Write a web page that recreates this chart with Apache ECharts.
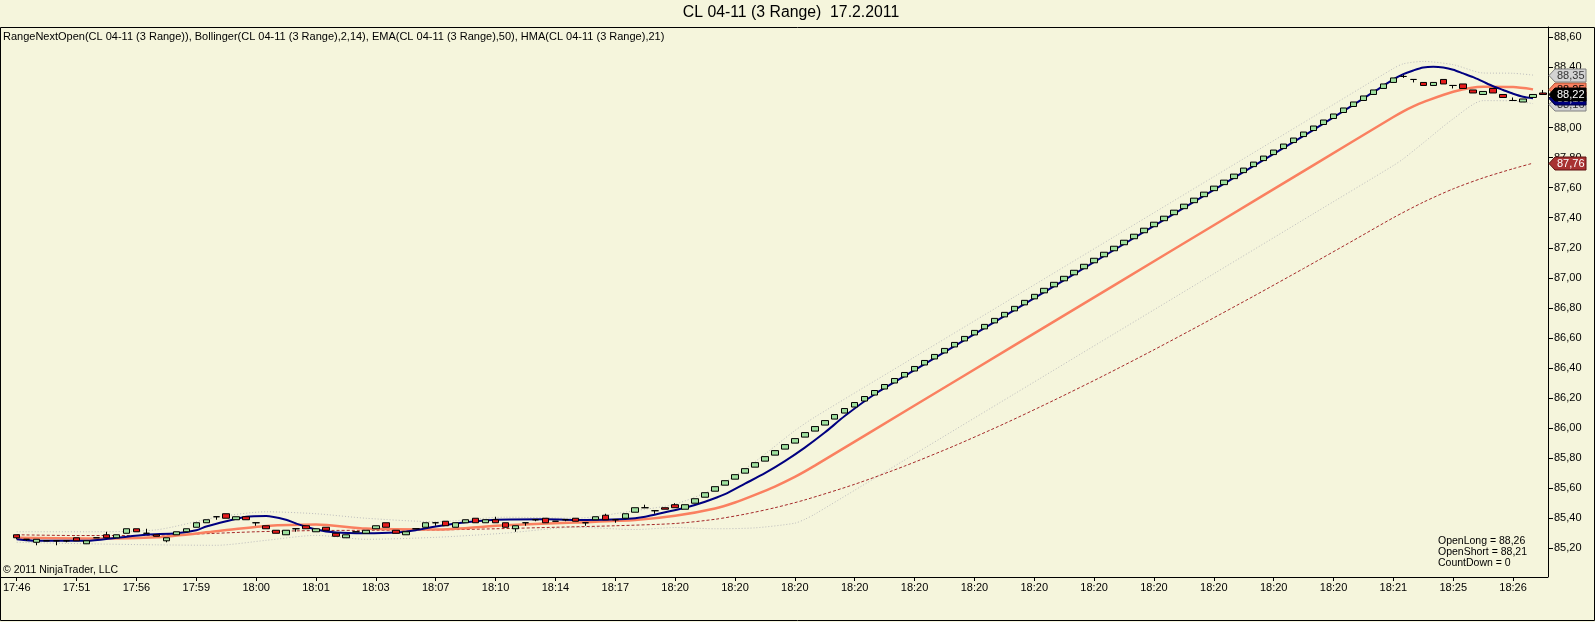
<!DOCTYPE html>
<html lang="en">
<head>
<meta charset="utf-8" />
<title>CL 04-11 (3 Range)</title>
<style>
  html, body { margin: 0; height: 100%; background: #f5f5dc; }
  #chart { width: 1595px; height: 622px; }
</style>
</head>
<body>
<div id="chart"></div>
<script src="https://cdn.jsdelivr.net/npm/echarts@6.0.0/dist/echarts.min.js"></script>
<script>
// x axis tick labels, one every 6 bars
var tickLabels = ['17:46','17:51','17:56','17:59','18:00','18:01','18:03','18:07','18:10','18:14','18:17',
  '18:20','18:20','18:20','18:20','18:20','18:20','18:20','18:20','18:20','18:20','18:20','18:20',
  '18:21','18:25','18:26'];
var yTicks = [85.2,85.4,85.6,85.8,86.0,86.2,86.4,86.6,86.8,87.0,87.2,87.4,87.6,87.8,88.0,88.2,88.4,88.6];

// range bars (154)
var opens = [
  85.29,85.26,85.24,85.25,85.25,85.25,85.27,85.23,85.27,85.29,
  85.27,85.30,85.33,85.30,85.29,85.25,85.29,85.31,85.34,85.37,
  85.41,85.43,85.39,85.41,85.37,85.35,85.32,85.29,85.33,85.35,
  85.31,85.34,85.30,85.27,85.31,85.30,85.33,85.37,85.32,85.29,
  85.33,85.34,85.37,85.38,85.34,85.37,85.40,85.37,85.39,85.37,
  85.33,85.37,85.39,85.40,85.38,85.39,85.40,85.37,85.39,85.42,
  85.39,85.40,85.44,85.47,85.45,85.47,85.49,
  85.46,85.50,85.54,85.58,85.62,85.66,85.70,85.74,85.78,85.82,
  85.86,85.90,85.94,85.98,86.02,86.06,86.10,86.14,86.18,86.22,
  86.26,86.30,86.34,86.38,86.42,86.46,86.50,86.54,86.58,86.62,
  86.66,86.70,86.74,86.78,86.82,86.86,86.90,86.94,86.98,87.02,
  87.06,87.10,87.14,87.18,87.22,87.26,87.30,87.34,87.38,87.42,
  87.46,87.50,87.54,87.58,87.62,87.66,87.70,87.74,87.78,87.82,
  87.86,87.90,87.94,87.98,88.02,88.06,88.10,88.14,88.18,88.22,
  88.26,88.30,
  88.34,88.32,88.30,88.28,88.32,88.28,88.29,88.25,88.22,88.26,88.22,88.18,88.17,88.20,88.23];
var closes = [
  85.27,85.26,85.26,85.25,85.25,85.25,85.25,85.25,85.27,85.27,
  85.29,85.33,85.31,85.30,85.28,85.27,85.31,85.33,85.37,85.39,
  85.41,85.40,85.41,85.39,85.37,85.33,85.30,85.32,85.33,85.33,
  85.33,85.32,85.28,85.29,85.31,85.32,85.35,85.34,85.30,85.31,
  85.33,85.37,85.37,85.35,85.37,85.39,85.37,85.39,85.37,85.34,
  85.35,85.37,85.39,85.37,85.38,85.39,85.38,85.37,85.41,85.39,
  85.39,85.43,85.47,85.47,85.45,85.46,85.47,
  85.49,85.53,85.57,85.61,85.65,85.69,85.73,85.77,85.81,85.85,
  85.89,85.93,85.97,86.01,86.05,86.09,86.13,86.17,86.21,86.25,
  86.29,86.33,86.37,86.41,86.45,86.49,86.53,86.57,86.61,86.65,
  86.69,86.73,86.77,86.81,86.85,86.89,86.93,86.97,87.01,87.05,
  87.09,87.13,87.17,87.21,87.25,87.29,87.33,87.37,87.41,87.45,
  87.49,87.53,87.57,87.61,87.65,87.69,87.73,87.77,87.81,87.85,
  87.89,87.93,87.97,88.01,88.05,88.09,88.13,88.17,88.21,88.25,
  88.29,88.33,
  88.34,88.32,88.28,88.30,88.29,88.28,88.26,88.23,88.24,88.23,88.20,88.18,88.19,88.22,88.22];
var lows = [
  85.26,85.25,85.22,85.25,85.22,85.24,85.25,85.23,85.27,85.27,
  85.27,85.30,85.31,85.30,85.28,85.24,85.29,85.31,85.34,85.37,
  85.39,85.40,85.39,85.39,85.35,85.33,85.30,85.29,85.31,85.33,
  85.31,85.32,85.28,85.27,85.31,85.30,85.33,85.34,85.30,85.29,
  85.33,85.34,85.35,85.35,85.34,85.37,85.37,85.37,85.37,85.34,
  85.31,85.35,85.38,85.37,85.38,85.38,85.38,85.35,85.39,85.39,
  85.37,85.40,85.44,85.47,85.43,85.46,85.47,
  85.46,85.50,85.54,85.58,85.62,85.66,85.70,85.74,85.78,85.82,
  85.86,85.90,85.94,85.98,86.02,86.06,86.10,86.14,86.18,86.22,
  86.26,86.30,86.34,86.38,86.42,86.46,86.50,86.54,86.58,86.62,
  86.66,86.70,86.74,86.78,86.82,86.86,86.90,86.94,86.98,87.02,
  87.06,87.10,87.14,87.18,87.22,87.26,87.30,87.34,87.38,87.42,
  87.46,87.50,87.54,87.58,87.62,87.66,87.70,87.74,87.78,87.82,
  87.86,87.90,87.94,87.98,88.02,88.06,88.10,88.14,88.18,88.22,
  88.26,88.30,
  88.33,88.30,88.28,88.28,88.29,88.26,88.26,88.23,88.22,88.23,88.20,88.18,88.17,88.20,88.22];
var highs = [
  85.29,85.26,85.26,85.25,85.25,85.25,85.27,85.25,85.27,85.31,
  85.29,85.33,85.33,85.33,85.29,85.27,85.31,85.33,85.37,85.39,
  85.41,85.43,85.41,85.41,85.37,85.35,85.32,85.32,85.33,85.35,
  85.33,85.34,85.30,85.29,85.31,85.32,85.35,85.37,85.32,85.31,
  85.33,85.37,85.37,85.38,85.37,85.39,85.40,85.39,85.41,85.37,
  85.35,85.37,85.39,85.40,85.38,85.39,85.40,85.37,85.41,85.43,
  85.39,85.43,85.47,85.49,85.45,85.47,85.50,
  85.49,85.53,85.57,85.61,85.65,85.69,85.73,85.77,85.81,85.85,
  85.89,85.93,85.97,86.01,86.05,86.09,86.13,86.17,86.21,86.25,
  86.29,86.33,86.37,86.41,86.45,86.49,86.53,86.57,86.61,86.65,
  86.69,86.73,86.77,86.81,86.85,86.89,86.93,86.97,87.01,87.05,
  87.09,87.13,87.17,87.21,87.25,87.29,87.33,87.37,87.41,87.45,
  87.49,87.53,87.57,87.61,87.65,87.69,87.73,87.77,87.81,87.85,
  87.89,87.93,87.97,88.01,88.05,88.09,88.13,88.17,88.21,88.25,
  88.29,88.33,
  88.35,88.32,88.30,88.30,88.32,88.28,88.29,88.25,88.24,88.26,88.22,88.20,88.19,88.22,88.25];

// indicator lines, [bar index, value]
var hmaPts = [[0,85.26],[2,85.25],[7,85.25],[10,85.27],[13,85.29],[16,85.30],[18,85.32],[19,85.345],[21,85.38],[23,85.41],
  [25,85.415],[27,85.39],[28,85.365],[30,85.325],[32,85.305],[35,85.30],[38,85.305],[40,85.32],[42,85.345],[44,85.365],
  [46,85.38],[48,85.39],[53,85.393],[57,85.388],[61,85.395],[63,85.41],[65,85.44],[67,85.47],[69,85.51],[71,85.56],
  [73,85.63],[75,85.70],[77,85.78],[79,85.87],[81,85.97],[83,86.08],[86,86.225],[90,86.385],[100,86.785],[110,87.185],
  [120,87.585],[130,87.985],[136,88.235],[138,88.32],[139,88.355],[140,88.38],[141,88.40],[142,88.405],[143,88.40],[144,88.385],
  [145,88.36],[146,88.335],[147,88.305],[148,88.275],[149,88.25],[150,88.225],[151,88.205],[152,88.195]];
var midPts = [[0,85.27],[7,85.265],[14,85.273],[20,85.313],[25,85.348],[30,85.358],[35,85.331],[42,85.325],[49,85.354],
  [56,85.372],[62,85.388],[66,85.416],[70,85.465],[72,85.505],[74,85.556],[76,85.611],[78,85.675],[80,85.75],[90,86.15],
  [100,86.55],[110,86.95],[120,87.35],[130,87.75],[138,88.07],[139,88.108],[140,88.141],[141,88.169],[144,88.238],
  [147,88.271],[150,88.269],[152,88.254]];
var upperPts = [[0,85.31],[7,85.31],[14,85.323],[20,85.406],[25,85.443],[30,85.43],[35,85.40],[42,85.377],[49,85.407],
  [56,85.40],[62,85.451],[66,85.494],[70,85.60],[74,85.776],[78,85.983],[80,86.073],[90,86.473],[100,86.873],[110,87.273],
  [120,87.673],[130,88.073],[138,88.393],[139,88.424],[141,88.44],[144,88.418],[147,88.363],[150,88.361],[152,88.349]];
var lowerPts = [[0,85.24],[7,85.23],[14,85.223],[20,85.22],[25,85.253],[30,85.286],[35,85.26],[42,85.273],[49,85.301],
  [56,85.34],[62,85.325],[66,85.338],[70,85.33],[74,85.336],[78,85.367],[79,85.393],[80,85.427],[90,85.827],[100,86.227],
  [110,86.627],[120,87.027],[130,87.427],[138,87.747],[139,87.792],[141,87.898],[144,88.058],[147,88.179],[150,88.177],[152,88.159]];
var emaPts = [[0,85.29],[6,85.285],[12,85.285],[18,85.295],[24,85.31],[30,85.318],[36,85.32],[42,85.322],[48,85.33],
  [54,85.34],[60,85.35],[66,85.365],[70,85.393],[73,85.427],[76,85.47],[79,85.522],[84,85.626],[89,85.747],[94,85.882],
  [99,86.029],[104,86.186],[109,86.35],[114,86.521],[119,86.698],[124,86.878],[129,87.062],[134,87.249],[138,87.40],
  [141,87.503],[144,87.592],[147,87.665],[150,87.726],[152,87.763]];

var FONT = '"Liberation Sans", Arial, sans-serif';
var chart = echarts.init(document.getElementById('chart'), null, { renderer: 'canvas' });

var categories = opens.map(function (o, i) { return i; });
var candles = opens.map(function (o, i) { return [o, closes[i], lows[i], highs[i]]; });
function fmt(v) { return v.toFixed(2).replace('.', ','); }
function everySix(i) { return i % 6 === 0; }

function lineSeries(pts, color, width, type, z) {
  return {
    type: 'line', data: pts, symbol: 'none', smooth: 0.25,
    silent: true, z: z,
    lineStyle: { color: color, width: width, type: type }
  };
}

var option = {
  backgroundColor: '#f5f5dc',
  animation: false,
  grid: { left: 7, right: 47, top: 27, bottom: 45 },
  xAxis: {
    type: 'category',
    data: categories,
    boundaryGap: true,
    axisLine: { show: false },
    axisTick: { show: true, interval: everySix, alignWithLabel: true, length: 4, lineStyle: { color: '#000' } },
    axisLabel: {
      interval: everySix, margin: 5, color: '#000', fontFamily: FONT, fontSize: 11,
      alignMinLabel: 'center',
      formatter: function (v, i) { return tickLabels[i / 6]; }
    },
    splitLine: { show: false }
  },
  yAxis: {
    type: 'value',
    position: 'right',
    min: 85.009,
    max: 88.669,
    axisLine: { show: true, lineStyle: { color: '#000' } },
    axisTick: { show: true, length: 5, customValues: yTicks, lineStyle: { color: '#000' } },
    axisLabel: { customValues: yTicks, margin: 6, color: '#000', fontFamily: FONT, fontSize: 11, formatter: fmt },
    splitLine: { show: false }
  },
  series: [
    lineSeries(lowerPts, '#bdbdbd', 1, [1, 2], 2),
    lineSeries(upperPts, '#bdbdbd', 1, [1, 2], 2),
    lineSeries(emaPts, '#a52a2a', 1, [3, 2], 2),
    lineSeries(midPts, '#fa8060', 2.5, 'solid', 2),
    lineSeries(hmaPts, '#000080', 2, 'solid', 2),
    {
      type: 'candlestick', data: candles, barWidth: 7, silent: true, z: 3,
      itemStyle: {
        color: '#9ee09e', color0: '#e41b1b',
        borderColor: '#000', borderColor0: '#000', borderColorDoji: '#000', borderWidth: 1
      }
    }
  ]
};
chart.setOption(option);

// texts, frame and the price tags on the right axis
var graphics = [
  { type: 'rect', shape: { x: 0.5, y: 27.5, width: 1594, height: 593 }, style: { fill: 'none', stroke: '#000', lineWidth: 1 }, silent: true },
  { type: 'line', shape: { x1: 0, y1: 577.5, x2: 1548, y2: 577.5 }, style: { stroke: '#000', lineWidth: 1 }, silent: true },
  { type: 'text', x: 791, y: 13, style: { text: 'CL 04-11 (3 Range)  17.2.2011', fill: '#000', font: '15.8px ' + FONT, align: 'center', verticalAlign: 'middle' } },
  { type: 'text', x: 3, y: 37, style: { text: 'RangeNextOpen(CL 04-11 (3 Range)), Bollinger(CL 04-11 (3 Range),2,14), EMA(CL 04-11 (3 Range),50), HMA(CL 04-11 (3 Range),21)', fill: '#000', font: '11px ' + FONT, verticalAlign: 'middle' } },
  { type: 'text', x: 3, y: 570, style: { text: '\u00a9 2011 NinjaTrader, LLC', fill: '#000', font: '10.5px ' + FONT, verticalAlign: 'middle' } },
  { type: 'text', x: 1438, y: 541, style: { text: 'OpenLong = 88,26', fill: '#000', font: '10.5px ' + FONT, verticalAlign: 'middle' } },
  { type: 'text', x: 1438, y: 552, style: { text: 'OpenShort = 88,21', fill: '#000', font: '10.5px ' + FONT, verticalAlign: 'middle' } },
  { type: 'text', x: 1438, y: 563, style: { text: 'CountDown = 0', fill: '#000', font: '10.5px ' + FONT, verticalAlign: 'middle' } }
];

function last(pts) { return pts[pts.length - 1][1]; }
var tags = [
  [last(lowerPts), '#d3d3d3', '#808080', '#333'],
  [last(hmaPts), '#000080', '#000040', '#fff'],
  [last(midPts), '#fa8060', '#b05030', '#000'],
  [last(upperPts), '#d3d3d3', '#808080', '#333'],
  [closes[closes.length - 1], '#000', '#000', '#fff'],
  [last(emaPts), '#a83232', '#601010', '#fff']
];
tags.forEach(function (t, k) {
  var y = Math.round(chart.convertToPixel({ yAxisIndex: 0 }, t[0])) + 0.5;
  graphics.push({
    type: 'polygon', z: 10 + k * 2, silent: true,
    shape: { points: [[1549, y], [1555, y - 6.5], [1586, y - 6.5], [1586, y + 6.5], [1555, y + 6.5]] },
    style: { fill: t[1], stroke: t[2], lineWidth: 1 }
  });
  graphics.push({
    type: 'text', z: 11 + k * 2, silent: true, x: 1557, y: y,
    style: { text: fmt(t[0]), fill: t[3], font: '11px ' + FONT, verticalAlign: 'middle' }
  });
});
chart.setOption({ graphic: graphics });

window.addEventListener('resize', chart.resize);
</script>
</body>
</html>
